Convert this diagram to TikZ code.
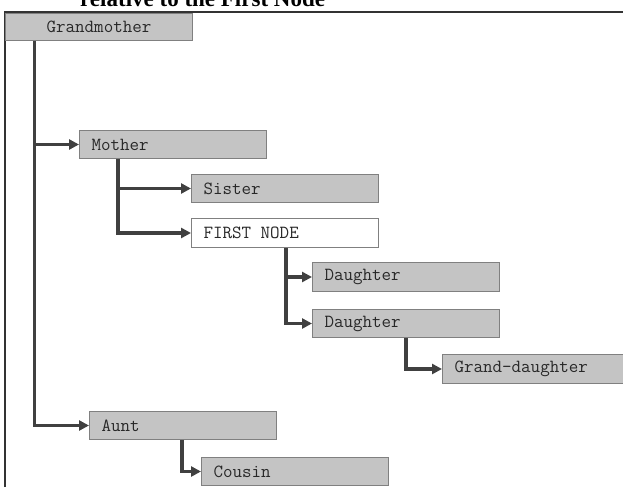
\documentclass[tikz,border=0pt]{standalone}
\usepackage{fontspec}
\setmainfont{Liberation Serif}
\usetikzlibrary{arrows.meta}
\definecolor{boxfill}{RGB}{196,196,196}
\definecolor{boxline}{RGB}{128,128,128}
\definecolor{connc}{RGB}{64,64,64}
\definecolor{framec}{RGB}{51,51,51}
\definecolor{txtc}{RGB}{40,40,40}
\newcommand\lefttext[1]{\makebox[163pt][l]{#1}}
\tikzset{
  member/.style={rectangle, draw=boxline, line width=1pt, fill=boxfill,
    anchor=north west, minimum height=28pt, minimum width=187pt,
    inner xsep=12pt, inner ysep=0pt, text=txtc,
    font=\ttfamily\fontsize{18.5}{18.5}\selectfont},
  firstbox/.style={member, fill=white},
  conn/.style={draw=connc, line width=3.5pt,
    -{Triangle[length=10pt,width=10pt]}},
  frameline/.style={draw=framec, line width=2pt},
}
\begin{document}
\begin{tikzpicture}[x=1pt,y=-1pt]
\useasboundingbox (0,0) rectangle (623,487);
\clip (0,0) rectangle (623,487);
\node[anchor=base west, font=\bfseries\fontsize{23}{23}\selectfont, inner sep=0pt] (title) at (80,7) {relative to the First Node};
\draw[frameline] (5,487) -- (5,12) -- (623,12);
% boxes
\node[member, minimum height=27pt] (gm) at (5,13) {Grandmother};
\node[member] (mother) at (79,130) {\lefttext{Mother}};
\node[member] (sister) at (191,174) {\lefttext{Sister}};
\node[firstbox, minimum height=29pt] (first) at (191,218) {\lefttext{FIRST NODE}};
\node[member, minimum height=29pt] (d1) at (312,262) {\lefttext{Daughter}};
\node[member] (d2) at (312,309) {\lefttext{Daughter}};
\node[member, minimum height=29pt] (gd) at (442,354) {\lefttext{Grand-daughter}};
\node[member] (aunt) at (89,411) {\lefttext{Aunt}};
\node[member] (cousin) at (201,457) {\lefttext{Cousin}};
% trunk coordinates
\coordinate (tA) at (34.5,0);
\coordinate (tB) at (118,0);
\coordinate (tC) at (286,0);
\coordinate (tD) at (406,0);
\coordinate (tE) at (182,0);
% connectors
\draw[conn] (tA |- gm.south) |- (aunt.west);
\draw[conn] (tA |- mother.west) -- (mother.west);
\draw[conn] (tB |- mother.south) |- (first.west);
\draw[conn] (tB |- sister.west) -- (sister.west);
\draw[conn] (tC |- first.south) |- (d2.west);
\draw[conn] (tC |- d1.west) -- (d1.west);
\draw[conn] (tD |- d2.south) |- (gd.west);
\draw[conn] (tE |- aunt.south) |- (cousin.west);
\end{tikzpicture}
\end{document}
